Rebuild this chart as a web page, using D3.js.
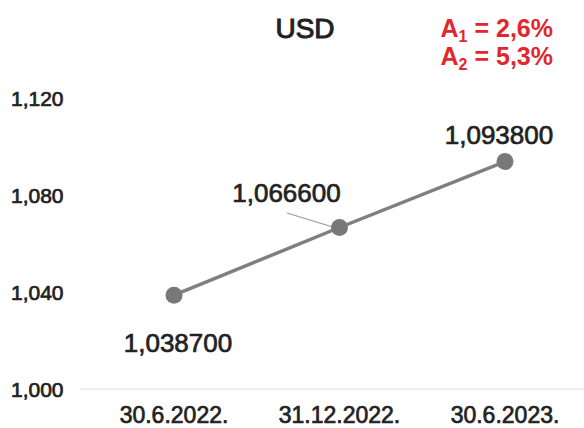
<!DOCTYPE html>
<html lang="en">
<head>
<meta charset="UTF-8">
<title>USD</title>
<style>
  body { margin: 0; background: #fff; }
  text { font-family: "Liberation Sans", Arial, sans-serif; fill: #222; }
</style>
</head>
<body>
<script src="https://d3js.org/d3.v7.min.js"></script>
<script>
const dates = ['30.6.2022.', '31.12.2022.', '30.6.2023.']
const rates = [1.0387, 1.0666, 1.0938]
const rateLabels = ['1,038700', '1,066600', '1,093800']
const yTicks = [1.000, 1.040, 1.080, 1.120]
const yTickLabels = ['1,000', '1,040', '1,080', '1,120']
const changes = [['1', '2,6%'], ['2', '5,3%']]

const width = 584, height = 428

const svg = d3.select('body').append('svg')
  .attr('width', width)
  .attr('height', height)

const x = d3.scalePoint()
  .domain(dates)
  .range([174, 505])

const y = d3.scaleLinear()
  .domain([1.0, 1.12])
  .range([389, 98])

// faint baseline
svg.append('line')
  .attr('x1', 80).attr('x2', 584)
  .attr('y1', y(1.0)).attr('y2', y(1.0))
  .attr('stroke', '#efefef')
  .attr('stroke-width', 2)

// y labels
svg.selectAll('.ylab')
  .data(yTicks)
  .enter()
  .append('text')
  .attr('class', 'ylab')
  .attr('x', 11)
  .attr('y', d => y(d) + 8)
  .attr('font-size', 21)
  .attr('stroke', '#222').attr('stroke-width', 0.7)
  .text((d, i) => yTickLabels[i])

// x labels
svg.selectAll('.xlab')
  .data(dates)
  .enter()
  .append('text')
  .attr('class', 'xlab')
  .attr('x', d => x(d))
  .attr('y', 423)
  .attr('text-anchor', 'middle')
  .attr('font-size', 23)
  .attr('stroke', '#222').attr('stroke-width', 0.7)
  .text(d => d)

const pts = dates.map((d, i) => ({ date: d, v: rates[i], label: rateLabels[i] }))

svg.append('path')
  .datum(pts)
  .attr('fill', 'none')
  .attr('stroke', '#7f7f7f')
  .attr('stroke-width', 3.5)
  .attr('d', d3.line().x(d => x(d.date)).y(d => y(d.v)))

// leader line for middle label
svg.append('line')
  .attr('x1', 287).attr('y1', 213)
  .attr('x2', x(dates[1]) - 5).attr('y2', y(rates[1]))
  .attr('stroke', '#9a9a9a')
  .attr('stroke-width', 1.2)

svg.selectAll('circle')
  .data(pts)
  .enter()
  .append('circle')
  .attr('cx', d => x(d.date))
  .attr('cy', d => y(d.v))
  .attr('r', 8.5)
  .attr('fill', '#787878')

// value labels: offsets relative to point
const offs = [[4, 57], [-53, -25], [-6, -18]]
svg.selectAll('.vlab')
  .data(pts)
  .enter()
  .append('text')
  .attr('class', 'vlab')
  .attr('x', (d, i) => x(d.date) + offs[i][0])
  .attr('y', (d, i) => y(d.v) + offs[i][1])
  .attr('text-anchor', 'middle')
  .attr('font-size', 26)
  .attr('stroke', '#222').attr('stroke-width', 0.7)
  .text(d => d.label)

// title
svg.append('text')
  .attr('x', 305)
  .attr('y', 38)
  .attr('text-anchor', 'middle')
  .attr('font-size', 28)
  .attr('stroke', '#222').attr('stroke-width', 1)
  .text('USD')

// red annotation
const ann = svg.append('g')
changes.forEach((c, i) => {
  const t = ann.append('text')
    .attr('x', 553)
    .attr('y', 37 + i * 28)
    .attr('text-anchor', 'end')
    .attr('font-size', 25)
    .attr('font-weight', 'bold')
    .style('fill', '#e3262b')
  t.append('tspan').text('A')
  t.append('tspan').attr('font-size', 16).attr('dy', 5).text(c[0])
  t.append('tspan').attr('dy', -5).text(' = ' + c[1])
})
</script>
</body>
</html>
